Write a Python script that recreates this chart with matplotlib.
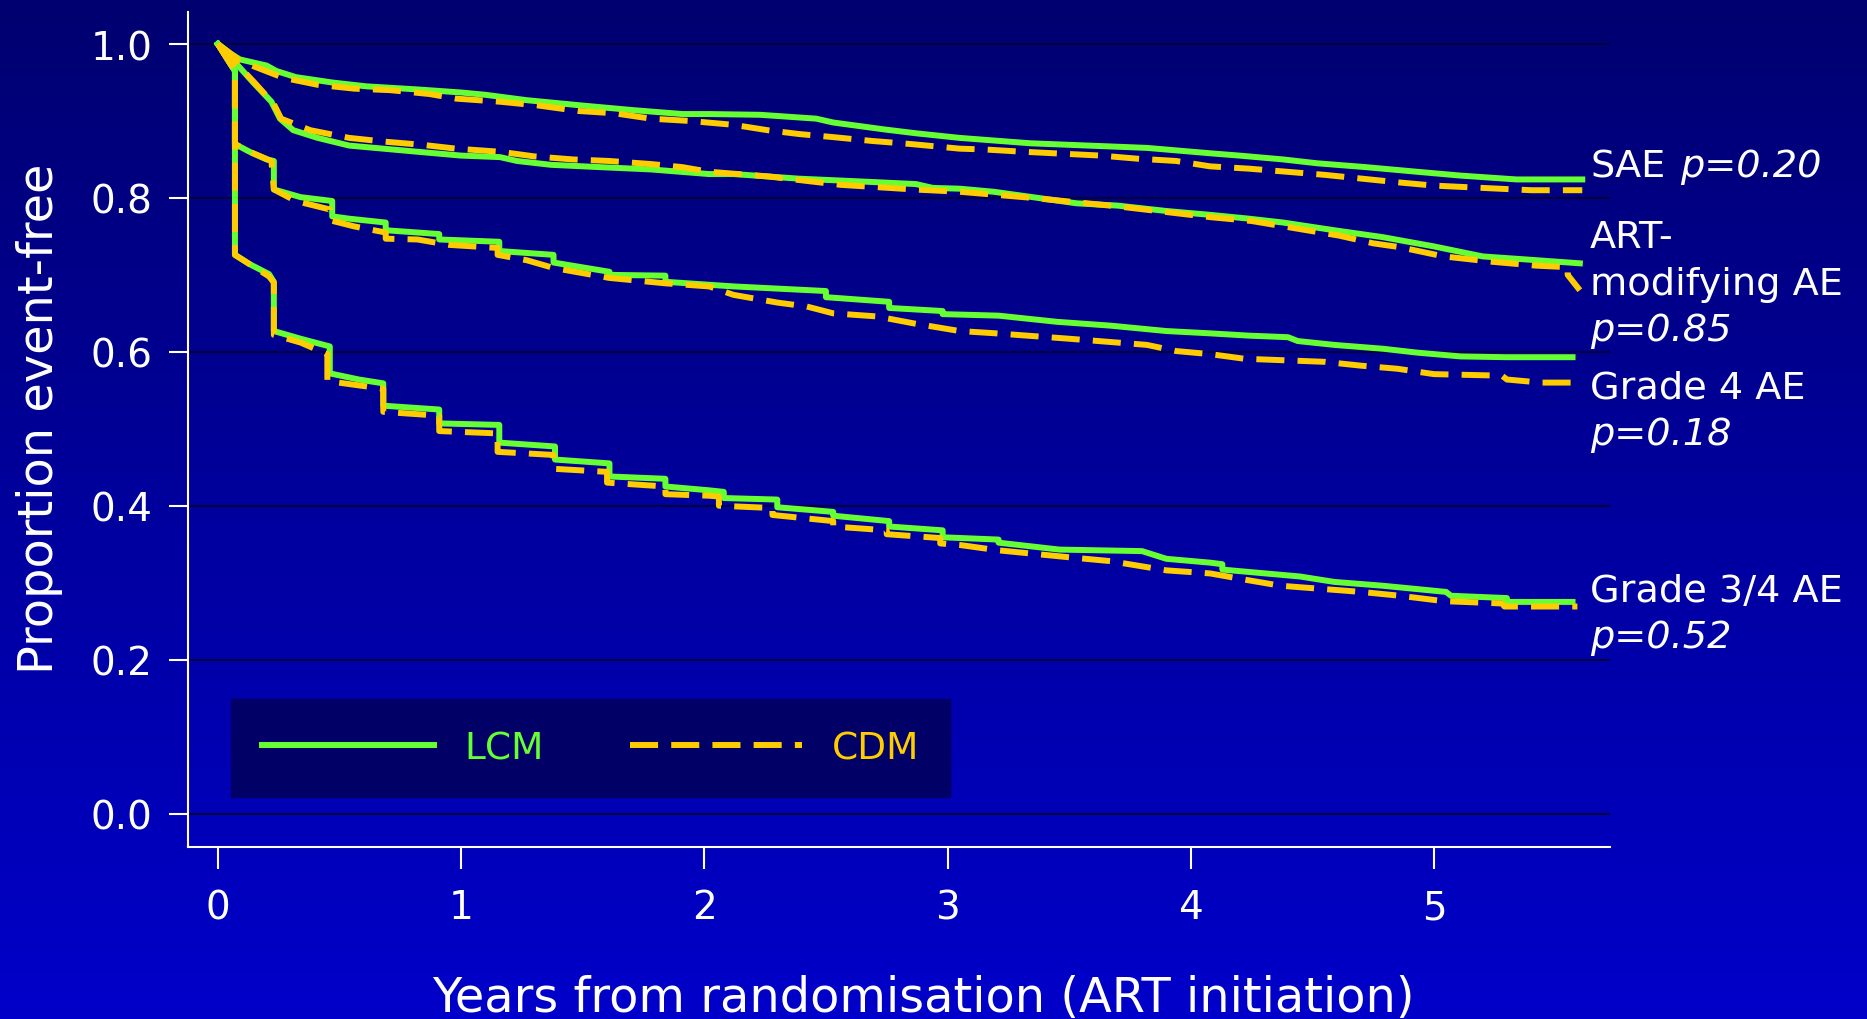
import numpy as np
import matplotlib.pyplot as plt
from matplotlib.colors import LinearSegmentedColormap
from matplotlib.ticker import FormatStrFormatter

# Proportion event-free by years from randomisation.
# Repeated x values are the vertical steps of the Kaplan-Meier curves.

# --- SAE ---
sae_lcm_t = [0, 0.05, 0.09, 0.20, 0.24, 0.32, 0.47, 0.61, 0.82, 1.00, 1.10, 1.27, 1.50, 1.71, 1.91,
             2.02, 2.23, 2.46, 2.53, 2.74, 2.87, 3.05, 3.34, 3.82, 4.08, 4.20, 4.38, 4.52, 4.72,
             4.93, 5.11, 5.34, 5.61]
sae_lcm_s = [1.0, 0.988, 0.980, 0.972, 0.965, 0.957, 0.950, 0.945, 0.941, 0.937, 0.934, 0.927, 0.920,
             0.914, 0.909, 0.909, 0.908, 0.903, 0.898, 0.889, 0.884, 0.878, 0.871, 0.865, 0.858,
             0.855, 0.850, 0.845, 0.840, 0.834, 0.829, 0.824, 0.824]
sae_cdm_t = [0, 0.05, 0.09, 0.27, 0.41, 0.56, 0.71, 0.87, 0.98, 1.16, 1.32, 1.48, 1.63, 1.78, 1.94,
             2.12, 2.26, 2.39, 2.53, 2.69, 2.85, 3.05, 3.15, 3.31, 3.63, 3.78, 3.94, 4.08, 4.24,
             4.55, 4.86, 5.00, 5.20, 5.40, 5.61]
sae_cdm_s = [1.0, 0.988, 0.978, 0.956, 0.947, 0.942, 0.940, 0.935, 0.929, 0.925, 0.920, 0.913, 0.910,
             0.903, 0.900, 0.895, 0.888, 0.883, 0.879, 0.874, 0.870, 0.864, 0.863, 0.860, 0.855,
             0.851, 0.848, 0.841, 0.838, 0.830, 0.820, 0.816, 0.813, 0.810, 0.810]

# --- ART-modifying AE ---
art_lcm_t = [0, 0.06, 0.145, 0.22, 0.255, 0.31, 0.41, 0.54, 0.68, 0.82, 1.00, 1.16, 1.23, 1.37, 1.57,
             1.78, 2.02, 2.12, 2.39, 2.67, 2.87, 2.94, 3.05, 3.19, 3.35, 3.53, 3.70, 3.90, 4.08,
             4.24, 4.38, 4.59, 4.79, 5.00, 5.20, 5.38, 5.60]
art_lcm_s = [1.0, 0.980, 0.950, 0.925, 0.903, 0.888, 0.878, 0.868, 0.864, 0.860, 0.855, 0.853, 0.848,
             0.843, 0.840, 0.837, 0.831, 0.831, 0.825, 0.821, 0.818, 0.813, 0.812, 0.808, 0.801,
             0.793, 0.790, 0.783, 0.778, 0.773, 0.768, 0.758, 0.749, 0.737, 0.724, 0.720, 0.715]
art_cdm_t = [0, 0.06, 0.15, 0.23, 0.26, 0.38, 0.54, 0.69, 0.84, 0.98, 1.16, 1.30, 1.46, 1.61, 1.78,
             1.91, 2.02, 2.26, 2.56, 2.86, 3.05, 3.35, 3.70, 4.08, 4.25, 4.61, 4.75, 4.86, 5.04,
             5.24, 5.42, 5.55, 5.55, 5.60]
art_cdm_s = [1.0, 0.980, 0.950, 0.922, 0.903, 0.888, 0.878, 0.873, 0.869, 0.864, 0.860, 0.854, 0.850,
             0.848, 0.844, 0.840, 0.834, 0.828, 0.817, 0.811, 0.808, 0.800, 0.789, 0.775, 0.770,
             0.751, 0.741, 0.736, 0.724, 0.717, 0.712, 0.710, 0.700, 0.680]

# --- Grade 4 AE ---
g4_lcm_t = [0, 0.07, 0.07, 0.13, 0.20, 0.23, 0.23, 0.34, 0.47, 0.47, 0.54, 0.69, 0.69, 0.91, 0.91,
            1.157, 1.157, 1.38, 1.38, 1.61, 1.61, 1.84, 1.84, 2.12, 2.50, 2.50, 2.76, 2.76, 2.98,
            2.98, 3.21, 3.45, 3.67, 3.90, 4.08, 4.24, 4.40, 4.44, 4.59, 4.79, 4.93, 5.11, 5.30, 5.57]
g4_lcm_s = [1.0, 0.965, 0.870, 0.860, 0.850, 0.848, 0.811, 0.801, 0.796, 0.776, 0.773, 0.768, 0.758,
            0.753, 0.746, 0.743, 0.731, 0.726, 0.716, 0.704, 0.700, 0.699, 0.691, 0.685, 0.679,
            0.671, 0.665, 0.657, 0.653, 0.649, 0.647, 0.639, 0.634, 0.627, 0.624, 0.621, 0.619,
            0.614, 0.609, 0.604, 0.599, 0.594, 0.593, 0.593]
g4_cdm_t = [0, 0.07, 0.07, 0.13, 0.22, 0.23, 0.32, 0.46, 0.46, 0.56, 0.69, 0.69, 0.82, 0.95, 1.15,
            1.15, 1.27, 1.38, 1.61, 1.84, 2.02, 2.12, 2.30, 2.42, 2.53, 2.71, 2.86, 3.05, 3.20,
            3.50, 3.82, 3.94, 4.08, 4.22, 4.55, 4.70, 4.85, 5.00, 5.28, 5.30, 5.44, 5.59]
g4_cdm_s = [1.0, 0.965, 0.870, 0.860, 0.848, 0.811, 0.796, 0.785, 0.771, 0.763, 0.755, 0.747, 0.746,
            0.739, 0.735, 0.726, 0.719, 0.709, 0.696, 0.689, 0.685, 0.674, 0.664, 0.659, 0.650,
            0.646, 0.637, 0.627, 0.624, 0.617, 0.609, 0.601, 0.597, 0.591, 0.587, 0.582, 0.578,
            0.571, 0.569, 0.564, 0.560, 0.560]

# --- Grade 3/4 AE ---
g34_lcm_t = [0, 0.07, 0.07, 0.13, 0.21, 0.23, 0.23, 0.34, 0.46, 0.46, 0.58, 0.68, 0.68, 0.91, 0.91,
             1.157, 1.157, 1.386, 1.386, 1.61, 1.61, 1.84, 1.84, 2.02, 2.08, 2.08, 2.30, 2.30, 2.53,
             2.53, 2.76, 2.76, 2.98, 2.98, 3.21, 3.21, 3.46, 3.80, 3.90, 4.08, 4.13, 4.13, 4.45,
             4.59, 4.79, 5.05, 5.07, 5.30, 5.30, 5.57]
g34_lcm_s = [1.0, 0.965, 0.726, 0.714, 0.701, 0.691, 0.627, 0.617, 0.607, 0.572, 0.564, 0.559, 0.530,
             0.525, 0.507, 0.505, 0.482, 0.477, 0.460, 0.455, 0.438, 0.435, 0.425, 0.420, 0.418,
             0.410, 0.408, 0.398, 0.392, 0.387, 0.380, 0.373, 0.368, 0.359, 0.356, 0.352, 0.343,
             0.341, 0.331, 0.326, 0.324, 0.317, 0.308, 0.301, 0.296, 0.288, 0.283, 0.280, 0.275,
             0.275]
g34_cdm_t = [0, 0.07, 0.07, 0.13, 0.21, 0.23, 0.23, 0.34, 0.45, 0.45, 0.68, 0.68, 0.91, 0.91, 1.15,
             1.15, 1.38, 1.38, 1.60, 1.60, 1.84, 1.84, 2.02, 2.06, 2.06, 2.28, 2.28, 2.53, 2.53,
             2.75, 2.75, 2.97, 2.97, 3.05, 3.21, 3.50, 3.67, 3.90, 4.08, 4.24, 4.37, 4.70, 4.86,
             5.04, 5.28, 5.29, 5.59]
g34_cdm_s = [1.0, 0.965, 0.726, 0.714, 0.698, 0.690, 0.622, 0.612, 0.597, 0.562, 0.552, 0.522, 0.517,
             0.497, 0.494, 0.470, 0.466, 0.448, 0.444, 0.430, 0.425, 0.415, 0.413, 0.412, 0.400,
             0.397, 0.388, 0.380, 0.373, 0.368, 0.363, 0.358, 0.351, 0.349, 0.342, 0.333, 0.328,
             0.316, 0.312, 0.303, 0.296, 0.288, 0.283, 0.276, 0.273, 0.269, 0.269]

lcm_curves = [(sae_lcm_t, sae_lcm_s), (art_lcm_t, art_lcm_s), (g4_lcm_t, g4_lcm_s), (g34_lcm_t, g34_lcm_s)]
cdm_curves = [(sae_cdm_t, sae_cdm_s), (art_cdm_t, art_cdm_s), (g4_cdm_t, g4_cdm_s), (g34_cdm_t, g34_cdm_s)]

x_ticks = [0, 1, 2, 3, 4, 5]
y_ticks = [0.0, 0.2, 0.4, 0.6, 0.8, 1.0]

GREEN = '#66FF33'
ORANGE = '#FFCC00'
W, H = 1867, 1020

fig = plt.figure(figsize=(W / 100, H / 100), dpi=100)

# blue slide background, darker at the top
bg = fig.add_axes([0, 0, 1, 1], zorder=-10)
grad = np.linspace(0, 1, 256)[:, None]
bg.imshow(grad, aspect='auto', origin='upper', extent=[0, 1, 0, 1],
          cmap=LinearSegmentedColormap.from_list('slide', ['#000070', '#0000CA']))
bg.axis('off')

ax = fig.add_axes([188 / W, 1 - 848 / H, 1422 / W, 835 / H])
ax.patch.set_alpha(0)

for t, s in lcm_curves:
    l_lcm, = ax.plot(t, s, color=GREEN, lw=4.3, zorder=3)
for t, s in cdm_curves:
    l_cdm, = ax.plot(t, s, color=ORANGE, lw=4.3, ls=(0, (4.7, 2.2)), zorder=4)

ax.set_xlim(-0.123, 5.724)
ax.set_ylim(-0.0435, 1.0416)
ax.set_xticks(x_ticks)
ax.set_yticks(y_ticks)
ax.yaxis.set_major_formatter(FormatStrFormatter('%.1f'))
ax.grid(axis='y', color='#000040', lw=1.5)
ax.set_axisbelow(True)

for side in ['top', 'right']:
    ax.spines[side].set_visible(False)
for side in ['left', 'bottom']:
    ax.spines[side].set_color('white')
    ax.spines[side].set_linewidth(1.5)

ax.tick_params(axis='y', length=13.7, width=1.5, colors='white', pad=12, labelsize=28)
ax.tick_params(axis='x', length=15.8, width=1.5, colors='white', pad=14, labelsize=28)

ax.set_xlabel('Years from randomisation (ART initiation)', color='white', fontsize=34.5)
ax.xaxis.set_label_coords(0.517, -0.1964)
ax.xaxis.label.set_va('baseline')
ax.set_ylabel('Proportion event-free', color='white', fontsize=34.5)
ax.yaxis.set_label_coords(-0.088, 0.514)

leg = ax.legend([l_lcm, l_cdm], ['LCM', 'CDM'], loc='lower left', bbox_to_anchor=(0.0302, 0.0599),
                borderaxespad=0, ncol=2, frameon=True, fancybox=False, framealpha=1,
                facecolor='#000066', edgecolor='#000066', handlelength=4.6, handletextpad=0.8,
                columnspacing=2.3, borderpad=0.82, labelcolor=[GREEN, ORANGE], fontsize=27)

# labels at the right end of the curves (baselines in pixels from the top)
tx = 1590 / W
fs = 27.5
sae = fig.text(tx, 1 - 177 / H, 'SAE', color='white', fontsize=fs, va='baseline')
ax.annotate('p=0.20', xy=(1, 0), xycoords=sae, xytext=(11, 0), textcoords='offset points',
            color='white', fontsize=fs, style='italic', va='bottom')
fig.text(tx, 1 - 248 / H, 'ART-', color='white', fontsize=fs, va='baseline')
fig.text(tx, 1 - 295 / H, 'modifying AE', color='white', fontsize=fs, va='baseline')
fig.text(tx, 1 - 341 / H, 'p=0.85', color='white', fontsize=fs, va='baseline', style='italic')
fig.text(tx, 1 - 399 / H, 'Grade 4 AE', color='white', fontsize=fs, va='baseline')
fig.text(tx, 1 - 445 / H, 'p=0.18', color='white', fontsize=fs, va='baseline', style='italic')
fig.text(tx, 1 - 602 / H, 'Grade 3/4 AE', color='white', fontsize=fs, va='baseline')
fig.text(tx, 1 - 648 / H, 'p=0.52', color='white', fontsize=fs, va='baseline', style='italic')

fig.savefig('out.png', dpi=100)
